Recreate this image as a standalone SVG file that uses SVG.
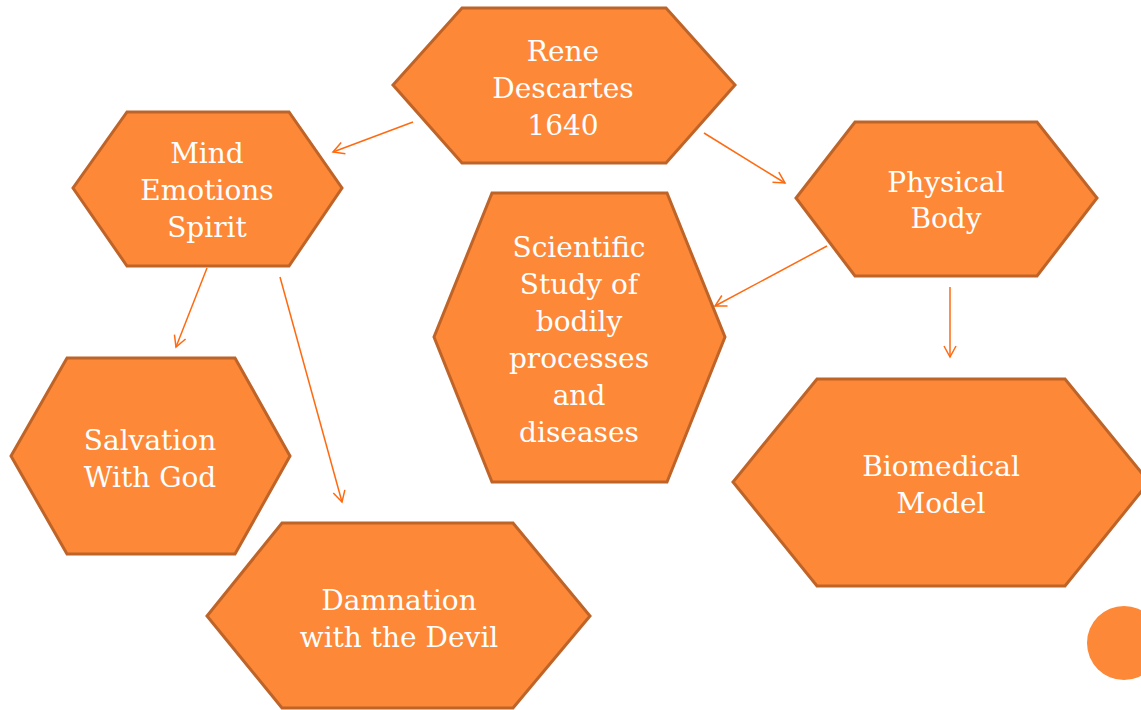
<svg xmlns="http://www.w3.org/2000/svg" width="1141" height="710" viewBox="0 0 1141 710">
<style>
.hex{fill:#FD8838;stroke:#BF6428;stroke-width:3;stroke-linejoin:miter}
.lbl{font-family:"DejaVu Serif","Liberation Serif",serif;font-size:28px;fill:#FFFFFF;text-anchor:middle}
.con{stroke:#FF6A10;stroke-width:1.5;fill:none;marker-end:url(#ah)}
</style>
<defs>
<marker id="ah" markerWidth="14" markerHeight="14" refX="12" refY="7" orient="auto" markerUnits="userSpaceOnUse">
<path d="M1,1 L12,7 L1,13" fill="none" stroke="#FF6A10" stroke-width="1.5"/>
</marker>
</defs>
<rect width="1141" height="710" fill="#FFFFFF"/>
<g id="connectors">
<line class="con" x1="413" y1="122" x2="333" y2="152"/>
<line class="con" x1="704" y1="133" x2="785" y2="183"/>
<line class="con" x1="207" y1="268" x2="176" y2="347"/>
<line class="con" x1="280" y1="277" x2="342" y2="502"/>
<line class="con" x1="827" y1="246" x2="715" y2="306"/>
<line class="con" x1="950" y1="287" x2="950" y2="357"/>
</g>
<g id="rene">
<polygon class="hex" points="462,8 666,8 735,85 666,163 462,163 393,85"/>
<text class="lbl"><tspan x="563" y="61">Rene</tspan><tspan x="563" y="98">Descartes</tspan><tspan x="563" y="135">1640</tspan></text>
</g>
<g id="mind">
<polygon class="hex" points="127,112 289,112 342,188 289,266 127,266 73,188"/>
<text class="lbl"><tspan x="207" y="163">Mind</tspan><tspan x="207" y="200">Emotions</tspan><tspan x="207" y="237">Spirit</tspan></text>
</g>
<g id="physical">
<polygon class="hex" points="855,122 1037,122 1097,198 1037,276 855,276 796,198"/>
<text class="lbl"><tspan x="946" y="192">Physical</tspan><tspan x="946" y="228">Body</tspan></text>
</g>
<g id="scientific">
<polygon class="hex" points="492,193 667,193 725,337 667,482 492,482 434,337"/>
<text class="lbl"><tspan x="579" y="257">Scientific</tspan><tspan x="579" y="294">Study of</tspan><tspan x="579" y="331">bodily</tspan><tspan x="579" y="368">processes</tspan><tspan x="579" y="405">and</tspan><tspan x="579" y="442">diseases</tspan></text>
</g>
<g id="salvation">
<polygon class="hex" points="67,358 235,358 290,456 235,554 67,554 11,456"/>
<text class="lbl"><tspan x="150" y="450">Salvation</tspan><tspan x="150" y="487">With God</tspan></text>
</g>
<g id="damnation">
<polygon class="hex" points="282,523 513,523 590,616 513,708 282,708 207,616"/>
<text class="lbl"><tspan x="399" y="610">Damnation</tspan><tspan x="399" y="647">with the Devil</tspan></text>
</g>
<g id="biomedical">
<polygon class="hex" points="817,379 1065,379 1149,482 1065,586 817,586 733,482"/>
<text class="lbl"><tspan x="941" y="476">Biomedical</tspan><tspan x="941" y="513">Model</tspan></text>
</g>
<circle cx="1124" cy="643" r="37" fill="#FD8838"/>
</svg>
